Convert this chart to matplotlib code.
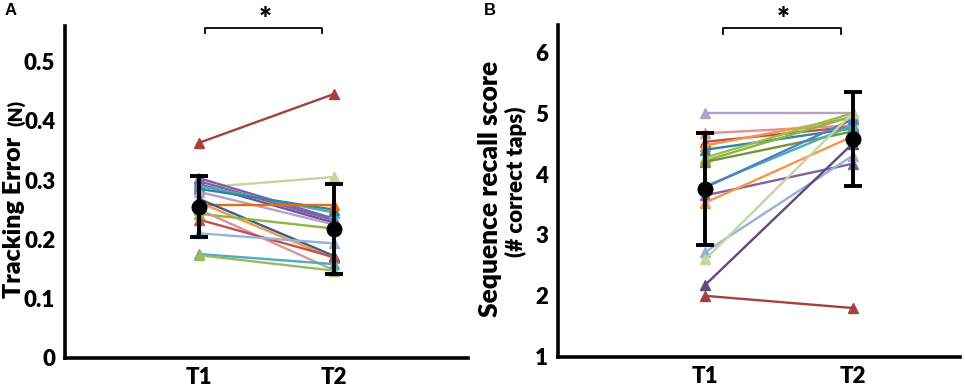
import matplotlib.pyplot as plt

# panel A: tracking error (N)
err_t1 = [0.363, 0.287, 0.303, 0.298, 0.293, 0.290, 0.285, 0.280, 0.258,
          0.268, 0.262, 0.243, 0.250, 0.233, 0.210, 0.175, 0.173]
err_t2 = [0.445, 0.305, 0.235, 0.232, 0.228, 0.245, 0.250, 0.225, 0.258,
          0.172, 0.168, 0.218, 0.148, 0.170, 0.193, 0.158, 0.147]
colA = ["#A5403D", "#C3D69B", "#7F5FA8", "#8064A2", "#6E54A0", "#4BACC6",
        "#31859C", "#B3A2C7", "#E46C0A", "#376092", "#F79646", "#8DB63C",
        "#D99694", "#C0504D", "#95B3D7", "#4BACC6", "#9BBB59"]
meanA = [0.255, 0.217]
sdA = [0.052, 0.076]

# panel B: sequence recall score
seq_t1 = [5.0, 4.67, 4.53, 4.47, 4.40, 4.27, 4.22, 4.20, 3.80, 3.78,
          3.65, 3.53, 2.72, 2.60, 2.18, 2.0]
seq_t2 = [5.0, 4.80, 4.78, 4.93, 4.75, 5.0, 4.95, 4.70, 4.80, 4.90,
          4.17, 4.62, 4.30, 5.0, 4.50, 1.80]
colB = ["#B3A2C7", "#D99694", "#C0504D", "#F79646", "#31859C", "#9BBB59",
        "#8DB63C", "#77933C", "#4BACC6", "#4F81BD", "#8064A2", "#F79646",
        "#95B3D7", "#C3D69B", "#604A7B", "#A5403D"]
meanB = [3.75, 4.58]
sdB = [0.92, 0.77]

xpos = [1, 2]
xlabels = ["T1", "T2"]

plt.rcParams['font.family'] = ['Lato', 'DejaVu Sans']
WT = "heavy"

fig = plt.figure(figsize=(9.65, 3.87), dpi=100)
W, H = 965, 387
axA = fig.add_axes([65/W, 1-357.7/H, (468-65)/W, (357.7-26)/H])
axB = fig.add_axes([558/W, 1-356.7/H, (960-558)/W, (356.7-25)/H])


def draw(ax, t1, t2, cols, mean, sd):
    for a, b, c in zip(t1, t2, cols):
        ax.plot(xpos, [a, b], color=c, lw=1.7, marker="^", ms=7.5,
                mec=c, mfc=c)
    ax.errorbar(xpos, mean, yerr=sd, fmt="o", color="black", ms=10.5,
                elinewidth=2.8, capsize=6.5, capthick=2.8, zorder=10)
    for s in ["top", "right"]:
        ax.spines[s].set_visible(False)
    for s in ["left", "bottom"]:
        ax.spines[s].set_linewidth(2.6)
    ax.tick_params(length=0, pad=7, labelsize=16)
    ax.set_xticks(xpos)
    ax.set_xticklabels(xlabels, fontweight=WT)


draw(axA, err_t1, err_t2, colA, meanA, sdA)
axA.set_xlim(0, 3)
axA.set_ylim(0, 0.56)
axA.set_yticks([0, 0.1, 0.2, 0.3, 0.4, 0.5])
axA.set_yticklabels(["0", "0.1", "0.2", "0.3", "0.4", "0.5"], fontweight=WT)
axA.plot([1.04, 1.04, 1.91, 1.91], [0.549, 0.557, 0.557, 0.549],
         color="black", lw=1.3, clip_on=False)
axA.text(1.49, 0.547, "*", ha="center", va="bottom", fontsize=22,
         fontweight=WT, clip_on=False)

draw(axB, seq_t1, seq_t2, colB, meanB, sdB)
axB.set_xlim(0, 2.73)
axB.set_ylim(1, 6.45)
axB.set_yticks([1, 2, 3, 4, 5, 6])
axB.set_yticklabels(["1", "2", "3", "4", "5", "6"], fontweight=WT)
axB.plot([1.12, 1.12, 1.92, 1.92], [6.31, 6.40, 6.40, 6.31],
         color="black", lw=1.3, clip_on=False)
axB.text(1.53, 6.30, "*", ha="center", va="bottom", fontsize=22,
         fontweight=WT, clip_on=False)

# axis labels
fig.text(25/W, 1-217/H, "Tracking Error", rotation=90, ha="right",
         va="center", fontsize=18, fontweight=WT)
fig.text(25/W, 1-113/H, "(N)", rotation=90, ha="right", va="center",
         fontsize=14, fontweight=WT)
fig.text(502/W, 1-189/H, "Sequence recall score", rotation=90, ha="right",
         va="center", fontsize=19, fontweight=WT)
fig.text(527/W, 1-182/H, "(# correct taps)", rotation=90, ha="right",
         va="center", fontsize=16, fontweight=WT)

fig.text(5/W, 1-3/H, "A", ha="left", va="top", fontsize=12,
         fontweight="bold", family="Liberation Sans")
fig.text(484/W, 1-3/H, "B", ha="left", va="top", fontsize=12,
         fontweight="bold", family="Liberation Sans")

fig.savefig("out.png", dpi=100)
